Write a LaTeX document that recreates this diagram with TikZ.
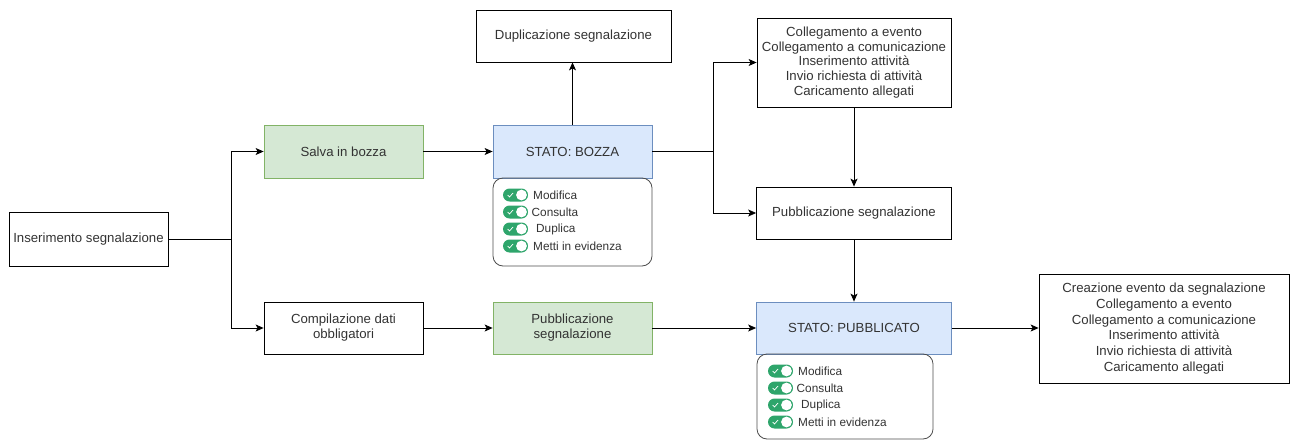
\documentclass[tikz,border=0pt]{standalone}
\usepackage{fontspec}
\setmainfont{Liberation Sans}
\usetikzlibrary{arrows.meta}

\definecolor{greenfill}{HTML}{D5E8D4}
\definecolor{greenline}{HTML}{82B366}
\definecolor{bluefill}{HTML}{DAE8FC}
\definecolor{blueline}{HTML}{6C8EBF}
\definecolor{togglegreen}{HTML}{2EA56B}
\definecolor{txt}{HTML}{333333}

% a column of switches with their labels, #1 = name, (#2,#3) = left end of the first switch
\newcommand{\switchlist}[3]{%
  \foreach \dy/\dx/\lab [count=\i] in {0/30/Modifica, 17/28.5/Consulta, 34/33/Duplica, 51/30/{Metti in evidenza}}{
    \fill[togglegreen, rounded corners=6.5pt] (#2,#3+\dy-6.5) rectangle (#2+25,#3+\dy+6.5);
    \fill[white] (#2+18.5,#3+\dy) circle (5.4pt);
    \draw[white, line width=0.7pt] (#2+4.5,#3+\dy) -- (#2+6.5,#3+\dy+2) -- (#2+10,#3+\dy-2);
    \node[anchor=west, inner sep=0pt, font=\fontsize{11.8}{13}\selectfont] (#1-\i) at (#2+\dx,#3+\dy) {\lab};
  }}

\begin{document}
\begin{tikzpicture}[x=1pt,y=-1pt]
\tikzstyle{every node}=[font=\fontsize{13.2}{15}\selectfont, text=txt]
\tikzstyle{box}=[draw=black, line width=0.8pt, inner sep=0pt, align=center]
\tikzstyle{greenbox}=[box, draw=greenline, fill=greenfill]
\tikzstyle{bluebox}=[box, draw=blueline, fill=bluefill]
\tikzstyle{panel}=[draw=black!70, line width=0.8pt, rounded corners=10pt, inner sep=0pt]
\tikzstyle{arr}=[line width=0.8pt, -{Stealth[length=8pt,width=7pt,inset=2pt]}]

\useasboundingbox (0,0) rectangle (1295,441);

\node[box, minimum width=159, minimum height=54] (ins) at (88.5,239) {Inserimento segnalazione};
\node[greenbox, minimum width=159, minimum height=53] (salva) at (343.5,151.5) {Salva in bozza};
\node[bluebox, minimum width=159, minimum height=53] (bozza) at (572.5,151.5) {STATO: BOZZA};
\node[box, minimum width=195, minimum height=52] (dup) at (573.5,36) {Duplicazione segnalazione};
\node[box, minimum width=194, minimum height=89, font=\fontsize{13.2}{14.7}\selectfont] (links1) at (854,62.5)
  {Collegamento a evento\\Collegamento a comunicazione\\Inserimento attività\\Invio richiesta di attività\\Caricamento allegati};
\node[box, minimum width=195, minimum height=52] (pubw) at (854,213) {Pubblicazione segnalazione};
\node[box, minimum width=159, minimum height=52] (comp) at (343.5,328) {Compilazione dati\\obbligatori};
\node[greenbox, minimum width=159, minimum height=52] (pubg) at (572.5,328) {Pubblicazione\\segnalazione};
\node[bluebox, minimum width=195, minimum height=52] (pubst) at (854,328) {STATO: PUBBLICATO};
\node[box, minimum width=250, minimum height=109, font=\fontsize{13.2}{15.8}\selectfont] (links2) at (1164,328.5)
  {Creazione evento da segnalazione\\Collegamento a evento\\Collegamento a comunicazione\\Inserimento attività\\Invio richiesta di attività\\Caricamento allegati};

\node[panel, minimum width=159, minimum height=88] (panA) at (572.5,222) {};
\node[panel, minimum width=176, minimum height=85] (panB) at (845,396.5) {};
\switchlist{swA}{503}{195}
\switchlist{swB}{768}{371}

\coordinate (j1) at (231,239);
\coordinate (j2) at (713,151.5);

\draw[line width=0.8pt] (ins) -- (j1);
\draw[arr] (j1) |- (salva);
\draw[arr] (j1) |- (comp);
\draw[arr] (salva) -- (bozza);
\draw[arr] (bozza.north) -- (bozza.north |- dup.south);
\draw[line width=0.8pt] (bozza) -- (j2);
\draw[arr] (j2) |- (links1);
\draw[arr] (j2) |- (pubw);
\draw[arr] (links1) -- (pubw);
\draw[arr] (pubw) -- (pubst);
\draw[arr] (comp) -- (pubg);
\draw[arr] (pubg) -- (pubst);
\draw[arr] (pubst) -- (pubst -| links2.west);

\end{tikzpicture}
\end{document}
